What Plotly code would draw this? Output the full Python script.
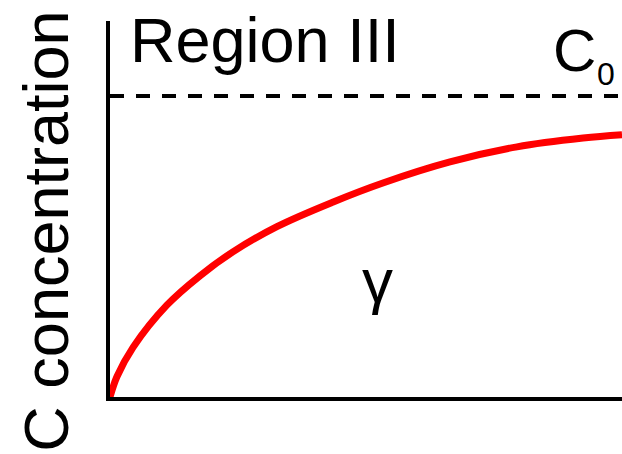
import plotly.graph_objects as go

# Carbon concentration profile in the gamma phase (normalised: C0 = 1)
distance = [0.0, 0.0137, 0.045, 0.111, 0.176, 0.240, 0.326, 0.436,
            0.533, 0.664, 0.795, 0.924, 1.0]
concentration = [0.0, 0.068, 0.165, 0.305, 0.403, 0.482, 0.566, 0.648,
                 0.711, 0.781, 0.831, 0.860, 0.871]

# Bulk concentration level C0
c0_x = [0.0, 1.0]
c0_y = [1.0, 1.0]

FONT = "Liberation Sans, Arial, sans-serif"

fig = go.Figure()

fig.add_trace(go.Scatter(
    x=c0_x, y=c0_y, mode="lines",
    line=dict(color="black", width=4, dash="14px,12px"),
    hoverinfo="skip", cliponaxis=False,
))

fig.add_trace(go.Scatter(
    x=distance, y=concentration, mode="lines",
    line=dict(color="#ff0000", width=7, shape="spline", smoothing=1.0),
    hoverinfo="skip", cliponaxis=False,
))

annotations = [
    dict(text="Region III", x=0.0352, y=1.186, xref="x", yref="y",
         xanchor="left", yanchor="middle", font=dict(size=63)),
    dict(text="C", x=0.908, y=1.1495, xref="x", yref="y",
         xanchor="center", yanchor="middle", font=dict(size=60)),
    dict(text="0", x=0.968, y=1.073, xref="x", yref="y",
         xanchor="center", yanchor="middle", font=dict(size=32)),
    dict(text="γ", x=0.5215, y=0.387, xref="x", yref="y",
         xanchor="center", yanchor="middle", font=dict(size=62)),
    dict(text="C concentration", x=-0.124, y=0.551, xref="paper", yref="y",
         xanchor="center", yanchor="middle", textangle=-90,
         font=dict(size=63)),
]
for a in annotations:
    a["showarrow"] = False
    a["font"]["family"] = FONT
    a["font"]["color"] = "black"

fig.update_layout(
    width=622, height=454,
    margin=dict(l=110, r=0, t=21, b=57),
    paper_bgcolor="white", plot_bgcolor="white",
    showlegend=False,
    annotations=annotations,
    font=dict(family=FONT),
)

axis_style = dict(showline=True, linecolor="black", linewidth=4,
                  showgrid=False, zeroline=False, ticks="",
                  showticklabels=False, mirror=False, fixedrange=True)
fig.update_xaxes(range=[0, 1], **axis_style)
fig.update_yaxes(range=[0, 1.249], **axis_style)

fig.write_html("out.html", config={"displayModeBar": False})
